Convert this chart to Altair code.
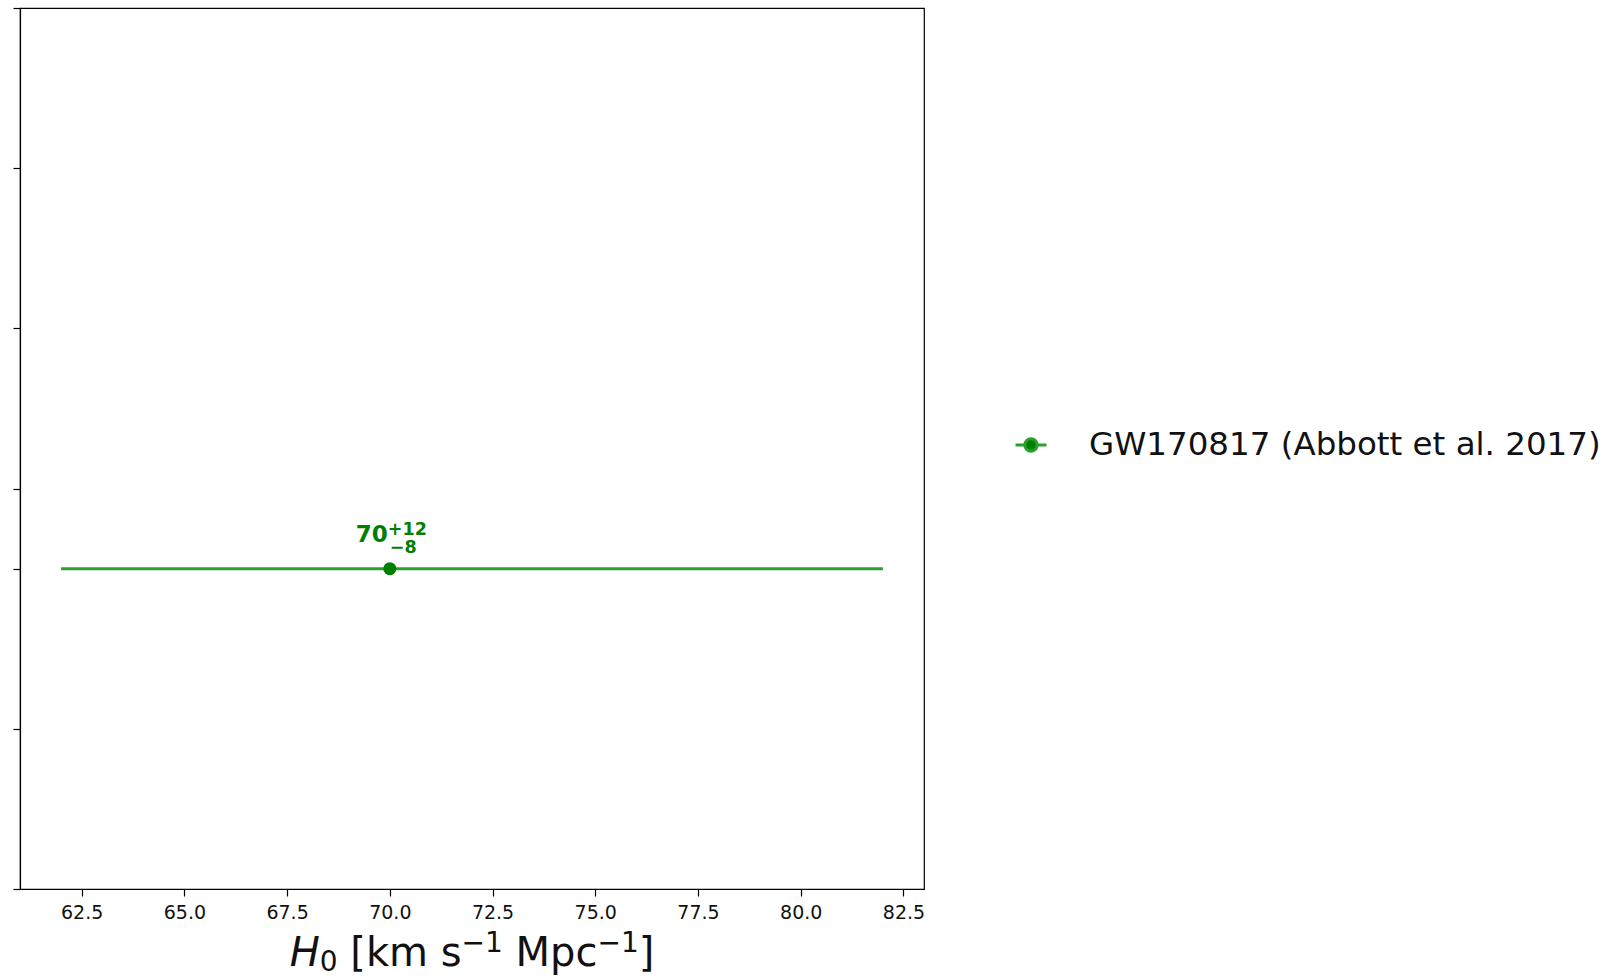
import altair as alt
import pandas as pd

# ---------------- data ----------------
labels = ["GW170817 (Abbott et al. 2017)"]
h0_values = [70.0]
err_plus = [12.0]
err_minus = [8.0]
y_positions = [2.0]
x_ticks = [62.5, 65.0, 67.5, 70.0, 72.5, 75.0, 77.5, 80.0, 82.5]
y_ticks = [0.0, 1.0, 2.0, 2.5, 3.5, 4.5, 5.5]
x_domain = [61.0, 83.0]
y_domain = [0.0, 5.5]

df = pd.DataFrame({
    "label": labels,
    "h0": h0_values,
    "lo": [h - m for h, m in zip(h0_values, err_minus)],
    "hi": [h + p for h, p in zip(h0_values, err_plus)],
    "y": y_positions,
    "main": [f"{h:g}" for h in h0_values],
    "sup": [f"+{p:g}" for p in err_plus],
    "sub": [f"\u2212{m:g}" for m in err_minus],
})

W, H = 904, 881
FONT = "DejaVu Sans"
LINE_GREEN = "#2ca02c"
DOT_GREEN = "#008000"

x_scale = alt.Scale(domain=x_domain, nice=False, zero=False)
y_scale = alt.Scale(domain=y_domain, nice=False, zero=False)
x_axis = alt.Axis(values=x_ticks, format=".1f", title=None, grid=False,
                  tickSize=7, labelFontSize=19, labelPadding=7, labelFont=FONT,
                  labelColor="#111", domainColor="black", tickColor="black",
                  labelFlush=False)
y_axis = alt.Axis(values=y_ticks, labels=False, title=None, grid=False,
                  tickSize=7, domainColor="black", tickColor="black")

base = alt.Chart(df)

errbar = base.mark_rule(color=LINE_GREEN, strokeWidth=3).encode(
    x=alt.X("lo:Q", scale=x_scale, axis=x_axis),
    x2="hi:Q",
    y=alt.Y("y:Q", scale=y_scale, axis=y_axis),
)

legend_symbol = ("M-1,0L-0.4,0M0.4,0L1,0M0.4,0A0.4,0.4,0,1,1,-0.4,0"
                 "A0.4,0.4,0,1,1,0.4,0Z")

points = base.mark_point(filled=True, size=169, opacity=1).encode(
    x=alt.X("h0:Q", scale=x_scale, axis=x_axis),
    y=alt.Y("y:Q", scale=y_scale, axis=y_axis),
    color=alt.Color("label:N",
                    scale=alt.Scale(domain=labels, range=[DOT_GREEN]),
                    legend=alt.Legend(title=None, orient="none",
                                      legendX=994, legendY=420,
                                      symbolType=legend_symbol,
                                      symbolSize=961,
                                      symbolStrokeColor=LINE_GREEN,
                                      symbolStrokeWidth=3,
                                      symbolFillColor=DOT_GREEN,
                                      labelFont=FONT, labelFontSize=32.5,
                                      labelColor="#111", labelOffset=41,
                                      labelLimit=0, padding=0)),
)

txt_main = base.mark_text(font=FONT, fontWeight="bold", fontSize=23,
                          color=DOT_GREEN, align="right",
                          baseline="alphabetic", dx=-2, dy=-27).encode(
    x="h0:Q", y="y:Q", text="main:N")
txt_sup = base.mark_text(font=FONT, fontWeight="bold", fontSize=17.5,
                         color=DOT_GREEN, align="left",
                         baseline="alphabetic", dx=-2, dy=-34).encode(
    x="h0:Q", y="y:Q", text="sup:N")
txt_sub = base.mark_text(font=FONT, fontWeight="bold", fontSize=17.5,
                         color=DOT_GREEN, align="left",
                         baseline="alphabetic", dx=0, dy=-16).encode(
    x="h0:Q", y="y:Q", text="sub:N")

# ---------------- x-axis title: H_0 [km s^-1 Mpc^-1] ----------------
ADV = {"H": 0.752, "0": 0.636, " ": 0.318, "[": 0.390, "k": 0.579,
       "m": 0.974, "s": 0.521, "\u2212": 0.838, "1": 0.636, "M": 0.863,
       "p": 0.635, "c": 0.550, "]": 0.390}
F = 40
S = 0.7 * F
# (text, size, style, vertical offset, leading gap in em of F)
pieces = [("H", F, "italic", 0, 0.0), ("0", S, "normal", 5, 0.0),
          ("[km s", F, "normal", 0, 0.318), ("\u22121", S, "normal", -14, 0.0),
          ("Mpc", F, "normal", 0, 0.318), ("\u22121", S, "normal", -14, 0.0),
          ("]", F, "normal", 0, 0.0)]
widths = [sum(ADV[c] for c in t) * fs + gap * F for t, fs, _, _, gap in pieces]
x_start = W / 2 - sum(widths) / 2
baseline_y = H + 77
dummy = pd.DataFrame({"d": [0]})
title_layers = []
cx = x_start
for (t, fs, style, off, gap), w in zip(pieces, widths):
    title_layers.append(
        alt.Chart(dummy).mark_text(font=FONT, fontSize=fs, fontStyle=style,
                                   align="left", baseline="alphabetic",
                                   color="#111").encode(
            x=alt.value(cx + gap * F), y=alt.value(baseline_y + off),
            text=alt.value(t))
    )
    cx += w

chart = alt.layer(errbar, points, txt_main, txt_sup, txt_sub,
                  *title_layers).properties(
    width=W, height=H,
    autosize=alt.AutoSizeParams(type="none"),
    padding={"left": 20, "top": 8, "right": 685, "bottom": 90},
).configure_view(stroke="black", strokeWidth=1.2).configure_axis(
    domainWidth=1.2, tickWidth=1.2)

chart.save("out.html", embed_options={"renderer": "svg", "actions": False})
